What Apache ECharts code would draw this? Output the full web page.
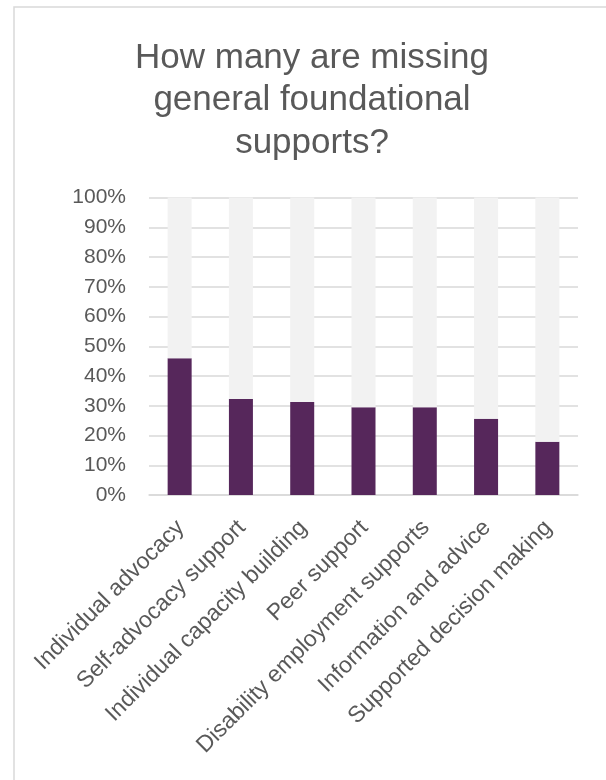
<!DOCTYPE html>
<html>
<head>
<meta charset="utf-8">
<style>
  html, body { margin: 0; padding: 0; background: #ffffff; }
  #chart { width: 606px; height: 780px; }
</style>
<script src="https://cdn.jsdelivr.net/npm/echarts@6/dist/echarts.min.js"></script>
</head>
<body>
<div id="chart"></div>
<script>
// Share of people missing each general foundational support (percent)
const categories = [
  'Individual advocacy',
  'Self-advocacy support',
  'Individual capacity building',
  'Peer support',
  'Disability employment supports',
  'Information and advice',
  'Supported decision making'
];
const missingPct = [46, 32.3, 31.3, 29.5, 29.5, 25.6, 17.9];
const yTicks = [0, 10, 20, 30, 40, 50, 60, 70, 80, 90, 100];

// Remainder of each 100% column
const remainderPct = missingPct.map(v => +(100 - v).toFixed(1));

const chart = echarts.init(document.getElementById('chart'), null, { renderer: 'canvas' });
const textColor = '#595959';
const gridColor = '#d9d9d9';
const fontFamily = '"Liberation Sans", Arial, sans-serif';

chart.setOption({
  animation: false,
  backgroundColor: '#ffffff',
  graphic: [{
    type: 'rect',
    shape: { x: 14, y: 7, width: 700, height: 900 },
    style: { fill: 'none', stroke: gridColor, lineWidth: 1.5 },
    silent: true
  }],
  title: {
    text: 'How many are missing\ngeneral foundational\nsupports?',
    left: 307,
    textAlign: 'center',
    top: 32,
    textStyle: {
      color: textColor,
      fontFamily: fontFamily,
      fontSize: 35,
      fontWeight: 'normal',
      lineHeight: 42.5
    }
  },
  grid: { left: 149, right: 28, top: 197.5, bottom: 285, containLabel: false },
  xAxis: {
    type: 'category',
    data: categories,
    axisLine: { show: true, lineStyle: { color: gridColor, width: 1.5 } },
    axisTick: { show: false },
    axisLabel: {
      rotate: 45,
      interval: 0,
      margin: 14,
      align: 'right',
      verticalAlign: 'top',
      padding: [0, 10, 0, 0],
      color: textColor,
      fontFamily: fontFamily,
      fontSize: 23
    }
  },
  yAxis: {
    type: 'value',
    min: yTicks[0],
    max: yTicks[yTicks.length - 1],
    interval: 10,
    axisLine: { show: false },
    axisTick: { show: false },
    splitLine: { lineStyle: { color: gridColor, width: 1.5 } },
    axisLabel: {
      margin: 23,
      color: textColor,
      fontFamily: fontFamily,
      fontSize: 21,
      formatter: v => v + '%'
    }
  },
  series: [
    {
      name: 'Missing',
      type: 'bar',
      stack: 'total',
      barWidth: 24,
      data: missingPct,
      itemStyle: { color: '#56275b' }
    },
    {
      name: 'Not missing',
      type: 'bar',
      stack: 'total',
      barWidth: 24,
      data: remainderPct,
      itemStyle: { color: '#f2f2f2' }
    }
  ]
});
</script>
</body>
</html>
